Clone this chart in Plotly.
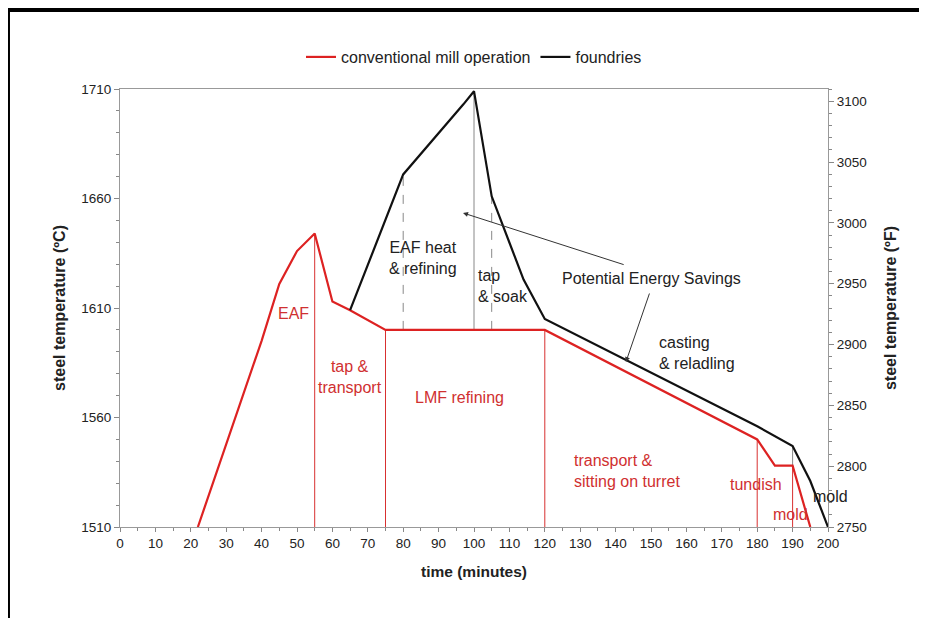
import plotly.graph_objects as go

# ---------------- data ----------------
conv_t = [22, 40, 45, 50, 55, 60, 65, 75, 120, 180, 185, 190, 195]
conv_T = [1510, 1595, 1621, 1636, 1644, 1613, 1609, 1600, 1600, 1550, 1538, 1538, 1510]

found_t = [65, 80, 97, 100, 105, 114, 120, 180, 190, 195, 200]
found_T = [1609, 1671, 1703, 1709, 1661, 1623, 1605, 1556, 1547, 1531, 1510]

# vertical separators: (time, bottom temp, top temp, colour, dash)
vlines_t = [55, 75, 120, 180, 190, 190, 100, 80, 105]
vlines_lo = [1510, 1510, 1510, 1510, 1510, 1538, 1600, 1600, 1600]
vlines_hi = [1644, 1600, 1600, 1550, 1538, 1547, 1709, 1671, 1661]
vlines_col = ["#d83030", "#d83030", "#d83030", "#d83030", "#d83030", "#888888",
              "#888888", "#888888", "#888888"]
vlines_dash = ["solid"] * 7 + ["dash", "dash"]

# text labels
lab_text = ["EAF", "tap &<br>transport", "LMF refining", "EAF heat<br>& refining",
            "tap<br>& soak", "Potential Energy Savings", "casting<br>& reladling",
            "transport &<br>sitting on turret", "tundish", "mold", "mold"]
lab_t = [49, 65, 96, 85.7, 100.6, 150, 151.8, 127.6, 179.8, 189.3, 195.1]
lab_T = [1607.6, 1578.6, 1569, 1633, 1620.2, 1623.6, 1589.3, 1535.7, 1529.5, 1515.5, 1524]
lab_col = ["#d03030", "#d03030", "#d03030", "#222222", "#222222", "#222222", "#222222",
           "#d03030", "#d03030", "#d03030", "#222222"]
lab_anchor = ["center", "center", "center", "center", "left", "center", "left",
              "left", "center", "center", "left"]

# arrows: tail (t,T) -> head (t,T)
arr_tail_t = [142.7, 149.7]
arr_tail_T = [1629.6, 1617.3]
arr_head_t = [96.9, 142.9]
arr_head_T = [1653.4, 1585.3]

x_ticks = list(range(0, 201, 10))
c_ticks = [1510, 1560, 1610, 1660, 1710]
f_ticks = [2750, 2800, 2850, 2900, 2950, 3000, 3050, 3100]

RED = "#dd2222"
FONT = "Liberation Sans, Arial, sans-serif"

fig = go.Figure()

fig.add_trace(go.Scatter(x=conv_t, y=conv_T, mode="lines", name="conventional mill operation",
                         line=dict(color=RED, width=2.2), cliponaxis=False))
fig.add_trace(go.Scatter(x=found_t, y=found_T, mode="lines", name="foundries",
                         line=dict(color="#111111", width=2.2), cliponaxis=False))
fig.add_trace(go.Scatter(x=[0, 200], y=[2750, 3110], yaxis="y2", mode="lines",
                         line=dict(width=0), showlegend=False, hoverinfo="skip"))

for t, lo, hi, c, d in zip(vlines_t, vlines_lo, vlines_hi, vlines_col, vlines_dash):
    fig.add_shape(type="line", xref="x", yref="y", x0=t, x1=t, y0=lo, y1=hi,
                  line=dict(color=c, width=1, dash=d), layer="below")

for txt, t, T, c, a in zip(lab_text, lab_t, lab_T, lab_col, lab_anchor):
    fig.add_annotation(x=t, y=T, xref="x", yref="y", text=txt, showarrow=False,
                       font=dict(family=FONT, size=16, color=c), xanchor=a, align=a,
                       yanchor="middle")

for tt, tT, ht, hT in zip(arr_tail_t, arr_tail_T, arr_head_t, arr_head_T):
    fig.add_annotation(x=ht, y=hT, ax=tt, ay=tT, xref="x", yref="y", axref="x", ayref="y",
                       text="", showarrow=True, arrowhead=2, arrowsize=1, arrowwidth=1,
                       arrowcolor="#333333")

# black frame
fig.add_shape(type="rect", xref="paper", yref="paper", x0=-0.1624, x1=-0.1554,
              y0=-0.25, y1=1.187, fillcolor="black", line=dict(width=0))
fig.add_shape(type="rect", xref="paper", yref="paper", x0=-0.1624, x1=1.2,
              y0=1.1758, y1=1.187, fillcolor="black", line=dict(width=0))

fig.update_layout(
    width=927, height=618,
    margin=dict(l=112, r=107, t=81, b=99),
    paper_bgcolor="white", plot_bgcolor="white",
    font=dict(family=FONT, size=12, color="#222222"),
    showlegend=True,
    legend=dict(orientation="h", x=0.5, xanchor="center", y=1.073, yanchor="middle",
                font=dict(family=FONT, size=16, color="#222222"), itemwidth=30,
                bgcolor="rgba(0,0,0,0)", traceorder="normal"),
    xaxis=dict(range=[0, 200], tickvals=x_ticks, ticks="outside", ticklen=4,
               tickcolor="#888888", showline=True, linecolor="#999999", linewidth=1,
               mirror=True, showgrid=False, zeroline=False,
               minor=dict(dtick=5, tick0=0, ticks="outside", ticklen=3, tickcolor="#888888"),
               tickfont=dict(family=FONT, size=13.5, color="#222222"),
               title=dict(text="<b>time (minutes)</b>", font=dict(family=FONT, size=15.5),
                          standoff=15)),
    yaxis=dict(range=[1510, 1710], tickvals=c_ticks, ticks="outside", ticklen=5,
               tickcolor="#888888", showline=True, linecolor="#999999", linewidth=1,
               showgrid=False, zeroline=False,
               minor=dict(dtick=10, tick0=1510, ticks="outside", ticklen=3, tickcolor="#888888"),
               tickfont=dict(family=FONT, size=13.5, color="#222222"),
               title=dict(text="<b>steel temperature (ºC)</b>", font=dict(family=FONT, size=16),
                          standoff=11)),
    yaxis2=dict(range=[2750, 3110], overlaying="y", side="right", tickvals=f_ticks,
                ticks="outside", ticklen=5, tickcolor="#888888", showline=True,
                linecolor="#999999", linewidth=1, showgrid=False, zeroline=False,
                minor=dict(dtick=10, tick0=2750, ticks="outside", ticklen=3, tickcolor="#888888"),
                tickfont=dict(family=FONT, size=13.5, color="#222222"),
                title=dict(text="<b>steel temperature (ºF)</b>", font=dict(family=FONT, size=16),
                           standoff=19)),
)

fig.write_html("out.html")
